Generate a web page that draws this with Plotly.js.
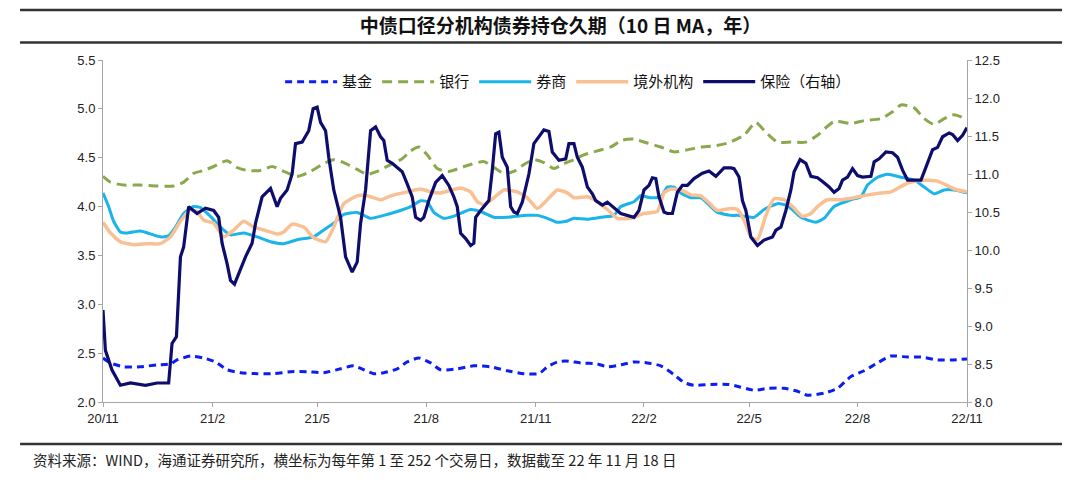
<!DOCTYPE html>
<html>
<head>
<meta charset="utf-8">
<script src="https://cdn.plot.ly/plotly-3.0.1.min.js"></script>
<style>
  html, body { margin: 0; padding: 0; background: #fff; }
  #chart { width: 1080px; height: 502px; }
</style>
</head>
<body>
<div id="chart"></div>
<script>
// x = trading-day position along the axis (0 = 20/11 ... 431.7 = 22/11)
const tickVals = [0, 54.8, 107, 161.5, 216.2, 270.3, 322.8, 377, 431.7];
const tickText = ['20/11', '21/2', '21/5', '21/8', '21/11', '22/2', '22/5', '22/8', '22/11'];

const fundX = [0,3.7,10.3,18.7,27,33.7,37,43.7,50.3,56.2,62,68.7,77,85.3,93.7,102,110.3,118.7,125.3,130.3,135.3,140.3,147,152,157.8,163.7,168.7,177,185.3,193.7,202,210.3,217.8,222,227,231.2,238.7,247,252,258.7,265.3,272,278.7,285.3,290.3,295.3,303.7,312,315.3,325.3,332,340.3,347,352,360.3,367,373.7,380.3,387,393.7,402,408.7,417,423.7,431.7];
const fundY = [2.45,2.40,2.36,2.36,2.38,2.39,2.43,2.47,2.45,2.41,2.33,2.30,2.29,2.29,2.31,2.31,2.30,2.34,2.37,2.33,2.29,2.30,2.34,2.41,2.45,2.40,2.33,2.34,2.37,2.36,2.32,2.29,2.29,2.36,2.41,2.42,2.40,2.39,2.36,2.38,2.41,2.40,2.37,2.28,2.20,2.17,2.18,2.18,2.17,2.12,2.14,2.14,2.11,2.07,2.09,2.14,2.26,2.32,2.40,2.47,2.46,2.46,2.43,2.43,2.44];

const bankX = [0,3.7,10.3,18.7,27,35.3,40.3,45.3,50.3,55.3,62,67,72,78.7,84.5,90.3,97,103.7,110.3,115.3,120.3,127,132,137,143.7,149.5,153.7,157.8,162,167,172.8,182,190.3,195.3,200.3,205.3,210.3,215.3,220.3,225.3,230.3,235.3,240.3,247,253.7,259.5,265.3,272,278.7,285.3,292,298.7,305.3,312,320.3,326.2,331.2,337,343.7,351.2,357,365.3,373.7,380.3,388.7,394.5,398.7,405.3,410.3,415.3,420.3,425.3,431.7];
const bankY = [4.31,4.25,4.22,4.22,4.21,4.21,4.25,4.34,4.37,4.41,4.47,4.40,4.37,4.37,4.41,4.36,4.31,4.36,4.44,4.48,4.45,4.38,4.33,4.36,4.43,4.49,4.57,4.61,4.53,4.39,4.36,4.42,4.46,4.40,4.34,4.36,4.43,4.48,4.45,4.39,4.44,4.48,4.53,4.57,4.61,4.68,4.69,4.65,4.61,4.56,4.58,4.61,4.62,4.65,4.73,4.86,4.76,4.66,4.66,4.66,4.73,4.87,4.85,4.88,4.90,4.97,5.04,5.01,4.90,4.84,4.90,4.94,4.89];

const brokerX = [0,2.8,5.3,8.7,12,18.7,23.7,28.7,32.8,36.2,40.3,45.3,48.7,53.7,58.7,63.7,70.3,77,83.7,90.3,97,105.3,110.3,115.3,120.3,127,133.7,140.3,147,153.7,158.7,162,165.3,170.3,175,183.7,188.7,195.3,202,212,217,222,226.7,231.7,235.3,242,248.7,255.3,258.7,265.3,268.7,273.7,278.7,282,285.3,288.7,293.7,298.7,303.7,307,313.7,317,325.3,330.3,337,342,348.7,356.2,360.3,365.3,373.7,378.7,382,387,392,398.7,405.3,410.3,415.3,420.3,425.3,431.7];
const brokerY = [4.14,4.00,3.85,3.74,3.73,3.75,3.72,3.69,3.70,3.79,3.93,4.00,3.99,3.90,3.79,3.71,3.73,3.69,3.64,3.62,3.66,3.69,3.76,3.83,3.92,3.94,3.88,3.91,3.95,4.00,4.06,4.05,3.94,3.88,3.90,3.97,3.95,3.89,3.89,3.91,3.91,3.88,3.84,3.85,3.88,3.87,3.89,3.91,4.00,4.05,4.11,4.09,4.10,4.20,4.20,4.14,4.09,4.09,4.00,3.94,3.91,3.91,3.89,3.97,4.03,4.01,3.89,3.84,3.88,4.00,4.07,4.10,4.22,4.30,4.33,4.30,4.27,4.20,4.13,4.17,4.17,4.14];

const foreignX = [0,3.7,8.7,15.3,22,28.7,33.7,38.7,43.7,47,50.3,55.3,60.3,65.3,70.3,75.3,80.3,87,90.3,94.5,100.3,105.3,111.2,115.3,120.3,127,132,138.7,143.7,152,158.7,163.7,168.7,178.7,183.7,187,190.3,195.3,200.3,207,212,217,222,227,232,235.3,242,247,252,257,263.7,270.3,277,280.3,283.7,288.7,293.7,298.7,303.7,307,313.7,317,320.3,323.7,327,331.2,335.3,340.3,344.5,349.5,353.7,357,362,368.7,375.3,382,388.7,393.7,402,408.7,417,425.3,431.7];
const foreignY = [3.84,3.73,3.64,3.61,3.62,3.62,3.69,3.85,3.97,3.95,3.86,3.83,3.69,3.76,3.85,3.79,3.76,3.72,3.74,3.82,3.79,3.68,3.64,3.79,4.03,4.11,4.11,4.07,4.11,4.15,4.18,4.15,4.14,4.19,4.15,4.05,4.02,4.09,4.17,4.15,4.09,3.98,4.07,4.17,4.14,4.09,4.10,4.05,3.97,3.88,3.88,3.93,3.95,4.14,4.18,4.17,4.12,4.11,4.02,3.96,3.98,3.97,3.86,3.69,3.66,3.91,4.08,4.07,4.00,3.90,3.93,4.00,4.07,4.07,4.09,4.12,4.14,4.15,4.24,4.27,4.26,4.18,4.15];

const insX = [0,1.2,4.5,8.7,13.7,21.2,27,32.8,34.5,36.7,38.7,40.3,42.8,47,51.2,55.3,57.8,59.5,62,63.7,65.7,67.8,71.2,74.5,76.2,79.5,83.7,87,88.7,92,94.5,96.2,99.5,102.8,105,107,108.7,111.2,112.8,115.3,118.7,121.2,124.5,127,128.7,131.2,133.7,136.2,138.7,140.3,142,144.5,149.5,152,154.5,156.2,158.7,160.3,162.8,166.2,169.5,172.8,175.3,177,178.7,181.2,183.7,185.3,186.2,188.7,192.8,194.5,196.2,197.8,199.5,202,203.7,205.3,207,209.5,212.8,215.3,217.8,220.3,222.8,224.5,227.8,231.2,232.8,235.3,237,239.5,242,244.5,246.2,249.5,252,255.3,258.7,265.3,267.8,270.3,272.8,274.5,276.2,277.8,280.3,282,284.5,287,289.5,292,295.3,299.5,302.8,306.2,310.3,313.7,315.3,317.8,319.5,321.2,323.7,327,330.3,334.5,336.2,338.7,341.2,343.7,345.3,348.3,351.2,353.7,357,359.5,362.8,365.3,367.8,369.5,372,374.5,377,379.5,383.7,385.3,387.8,391.2,394.5,397,399.5,402,405.3,408.7,411.2,414.5,417,419.5,422.8,424.5,427,429.5,431.7];
const insY = [9.21,8.68,8.42,8.22,8.25,8.22,8.25,8.25,8.77,8.86,9.91,10.04,10.57,10.48,10.55,10.52,10.43,10.09,9.82,9.60,9.55,9.69,9.91,10.09,10.35,10.70,10.81,10.57,10.68,10.79,11.00,11.40,11.42,11.57,11.86,11.88,11.68,11.57,11.22,10.79,10.43,9.91,9.71,9.84,10.35,10.79,11.57,11.62,11.49,11.44,11.18,11.14,11.03,10.87,10.70,10.43,10.39,10.43,10.65,10.89,10.98,10.85,10.70,10.57,10.22,10.15,10.06,10.09,10.43,10.52,10.65,11.05,11.53,11.55,11.22,11.09,10.57,10.50,10.48,10.63,11.00,11.40,11.49,11.58,11.56,11.29,11.18,11.20,11.40,11.40,11.22,11.09,10.83,10.74,10.65,10.59,10.63,10.55,10.48,10.43,10.52,10.79,10.85,10.95,10.94,10.70,10.50,10.48,10.48,10.76,10.85,10.85,10.94,11.01,11.04,10.97,11.08,11.08,11.07,10.96,10.65,10.52,10.17,10.06,10.13,10.17,10.26,10.30,10.52,10.79,11.03,11.19,11.14,10.97,10.95,10.90,10.83,10.76,10.81,10.92,10.96,11.07,10.98,10.96,10.97,11.16,11.20,11.29,11.28,11.22,11.05,10.92,10.92,10.92,11.09,11.32,11.35,11.49,11.54,11.52,11.44,11.51,11.61];

const names = ['基金', '银行', '券商', '境外机构', '保险（右轴）'];

const traces = [
  { x: fundX, y: fundY, name: names[0], type: 'scatter', mode: 'lines',
    line: { color: '#0b1df2', width: 3, dash: '7px,5px', shape: 'spline', smoothing: 0.6 } },
  { x: bankX, y: bankY, name: names[1], type: 'scatter', mode: 'lines',
    line: { color: '#8aa84c', width: 3, dash: '10px,6px', shape: 'spline', smoothing: 0.6 } },
  { x: brokerX, y: brokerY, name: names[2], type: 'scatter', mode: 'lines',
    line: { color: '#1ab3ea', width: 3, shape: 'spline', smoothing: 0.5 } },
  { x: foreignX, y: foreignY, name: names[3], type: 'scatter', mode: 'lines',
    line: { color: '#f9c093', width: 3.5, shape: 'spline', smoothing: 0.5 } },
  { x: insX, y: insY, name: names[4], type: 'scatter', mode: 'lines', yaxis: 'y2',
    line: { color: '#0d0d6e', width: 3.2 } }
];

const axisCommon = {
  showgrid: false, zeroline: false, showline: true, linecolor: '#a6a6a6', linewidth: 1,
  ticks: 'outside', ticklen: 4, tickcolor: '#a6a6a6',
  tickfont: { family: 'Liberation Sans, Arial, sans-serif', size: 13, color: '#222' }
};

const layout = {
  width: 1080, height: 502,
  margin: { l: 103, r: 113, t: 60, b: 100 },
  paper_bgcolor: '#fff', plot_bgcolor: '#fff',
  showlegend: true,
  title: {
    text: '<b>中债口径分机构债券持仓久期（10 日 MA，年）</b>',
    x: 0.519, xref: 'container', xanchor: 'center',
    y: 1 - 26 / 502, yref: 'container', yanchor: 'middle',
    font: { family: 'Noto Sans CJK SC, sans-serif', size: 19, color: '#111' }
  },
  xaxis: Object.assign({}, axisCommon, {
    range: [0, 431.7], tickvals: tickVals, ticktext: tickText, tickmode: 'array'
  }),
  yaxis: Object.assign({}, axisCommon, {
    range: [2, 5.5], dtick: 0.5, tick0: 2, tickformat: '.1f'
  }),
  yaxis2: Object.assign({}, axisCommon, {
    range: [8, 12.5], dtick: 0.5, tick0: 8, tickformat: '.1f',
    overlaying: 'y', side: 'right'
  }),
  legend: {
    orientation: 'h', x: 0.205, xanchor: 'left', y: 0.936, yanchor: 'middle',
    font: { family: 'Noto Sans CJK SC, sans-serif', size: 15, color: '#111' },
    itemwidth: 52, bgcolor: 'rgba(0,0,0,0)', traceorder: 'normal'
  },
  shapes: [
    { type: 'line', xref: 'paper', yref: 'paper', x0: -0.096, x1: 1.110, y0: 1.146, y1: 1.146,
      line: { color: '#333', width: 2.5 } },
    { type: 'line', xref: 'paper', yref: 'paper', x0: -0.096, x1: 1.110, y0: 1.051, y1: 1.051,
      line: { color: '#333', width: 2.5 } },
    { type: 'line', xref: 'paper', yref: 'paper', x0: -0.096, x1: 1.110, y0: -0.1228, y1: -0.1228,
      line: { color: '#333', width: 2.5 } }
  ],
  annotations: [
    { text: '资料来源：WIND，海通证券研究所，横坐标为每年第 1 至 252 个交易日，数据截至 22 年 11 月 18 日',
      xref: 'paper', yref: 'paper', x: -0.083, y: -0.167, xanchor: 'left', yanchor: 'middle',
      showarrow: false, font: { family: 'Noto Sans CJK SC, sans-serif', size: 14.5, color: '#222' } }
  ]
};

Plotly.newPlot('chart', traces, layout, { displayModeBar: false, staticPlot: true });
</script>
</body>
</html>
